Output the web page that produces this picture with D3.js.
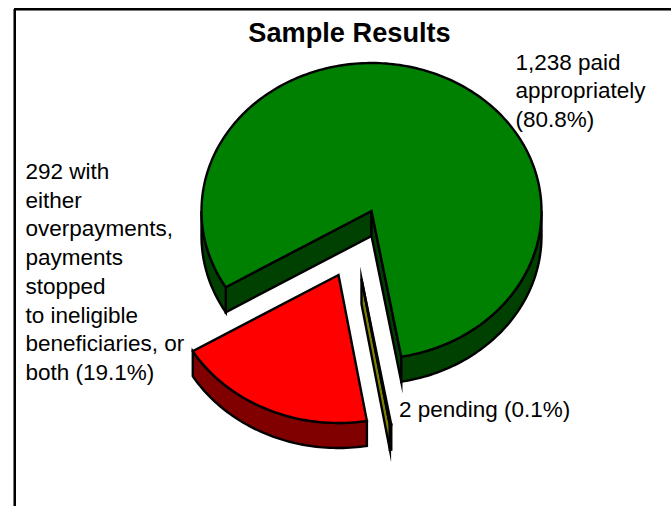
<!DOCTYPE html>
<html><head><meta charset="utf-8">
<script src="https://cdn.jsdelivr.net/npm/d3@7"></script>
<style>html,body{margin:0;padding:0;background:#fff}svg{display:block}text{font-family:"Liberation Sans",Arial,sans-serif;fill:#000}</style>
</head><body><svg id="c" width="671" height="506"></svg>
<script>
const categories = ["paid appropriately","pending","overpayments or stopped"];
const values = [1238,2,292];
const topColors = ["#008000","#808000","#ff0000"];
const sideColors = ["#004000","#808000","#800000"];
const titleText = "Sample Results";
const labelLines = [
 {x:515.5,y:69.5,lines:["1,238 paid","appropriately","(80.8%)"]},
 {x:25.5,y:179,lines:["292 with","either","overpayments,","payments","stopped","to ineligible","beneficiaries, or","both (19.1%)"]},
 {x:399,y:417,lines:["2 pending (0.1%)"]}
];
const W=671,H=506,cx=371.5,cy=211,rx=170,ry=148,depth=25,lineH=28.7;
const offsets=[[0,0],[-10,68],[-33,64]];
const svg=d3.select("#c");
svg.append("line").attr("x1",13).attr("x2",W).attr("y1",10.5).attr("y2",10.5).attr("stroke","#777").attr("stroke-width",1);
svg.append("line").attr("x1",13.5).attr("x2",13.5).attr("y1",9).attr("y2",H).attr("stroke","#777").attr("stroke-width",1);
svg.append("line").attr("x1",14).attr("x2",W).attr("y1",9).attr("y2",9).attr("stroke","#000").attr("stroke-width",2);
svg.append("line").attr("x1",15).attr("x2",15).attr("y1",8).attr("y2",H).attr("stroke","#000").attr("stroke-width",2);
svg.append("text").attr("x",349.5).attr("y",41.5).attr("text-anchor","middle").attr("font-weight","bold").attr("font-size",27.2).text(titleText);
const start=239*Math.PI/180;
const arcs=d3.pie().sort(null).startAngle(start).endAngle(start+2*Math.PI)(values);
const rScale=d3.scaleLinear().domain([0,1]).range([0,1]);
const line=d3.line();
function pt(a,r,ox,oy,d){return [cx+ox+rx*rScale(r)*Math.sin(a),cy+oy-ry*rScale(r)*Math.cos(a)+d];}
function arcPts(a0,a1,ox,oy,d){const n=Math.max(2,Math.ceil(Math.abs(a1-a0)/0.02));return d3.range(n+1).map(i=>pt(a0+(a1-a0)*i/n,1,ox,oy,d));}
const order=[0,2,1];
const stroke={stroke:"#000","stroke-width":2.4,"stroke-linejoin":"miter","stroke-miterlimit":30};
function style(s,f){s.attr("fill",f);Object.entries(stroke).forEach(([k,v])=>s.attr(k,v));return s;}
order.forEach(i=>{
 const A=arcs[i];
 const [ox,oy]=offsets[i];
 const g=svg.append("g").attr("class","slice").attr("data-cat",categories[i]);
 const wall=(pts)=>style(g.append("path").attr("d",line(pts)+"Z"),sideColors[i]);
 const c0=pt(0,0,ox,oy,0),c1=pt(0,0,ox,oy,depth);
 const sA=pt(A.startAngle,1,ox,oy,0),sB=pt(A.startAngle,1,ox,oy,depth);
 const eA=pt(A.endAngle,1,ox,oy,0),eB=pt(A.endAngle,1,ox,oy,depth);
 // a cut face is drawn only if it turns towards the viewer
 if(Math.cos(A.startAngle-Math.PI/2)<0) wall([c0,sA,sB,c1]);
 if(Math.cos(A.endAngle+Math.PI/2)<0) wall([c0,eA,eB,c1]);
 const TAU=2*Math.PI;
 const lo=[[Math.PI/2,3*Math.PI/2],[Math.PI/2+TAU,3*Math.PI/2+TAU]];
 lo.forEach(([l,h])=>{
  const a0=Math.max(l,A.startAngle),a1=Math.min(h,A.endAngle);
  if(a1>a0) wall(arcPts(a0,a1,ox,oy,0).concat(arcPts(a1,a0,ox,oy,depth)));
 });
 style(g.append("path").attr("d",line([c0].concat(arcPts(A.startAngle,A.endAngle,ox,oy,0)))+"Z"),topColors[i]);
});
labelLines.forEach(L=>{
 const t=svg.append("text").attr("font-size",22.5);
 L.lines.forEach((s,k)=>t.append("tspan").attr("x",L.x).attr("y",L.y+k*lineH).text(s));
});
</script></body></html>
